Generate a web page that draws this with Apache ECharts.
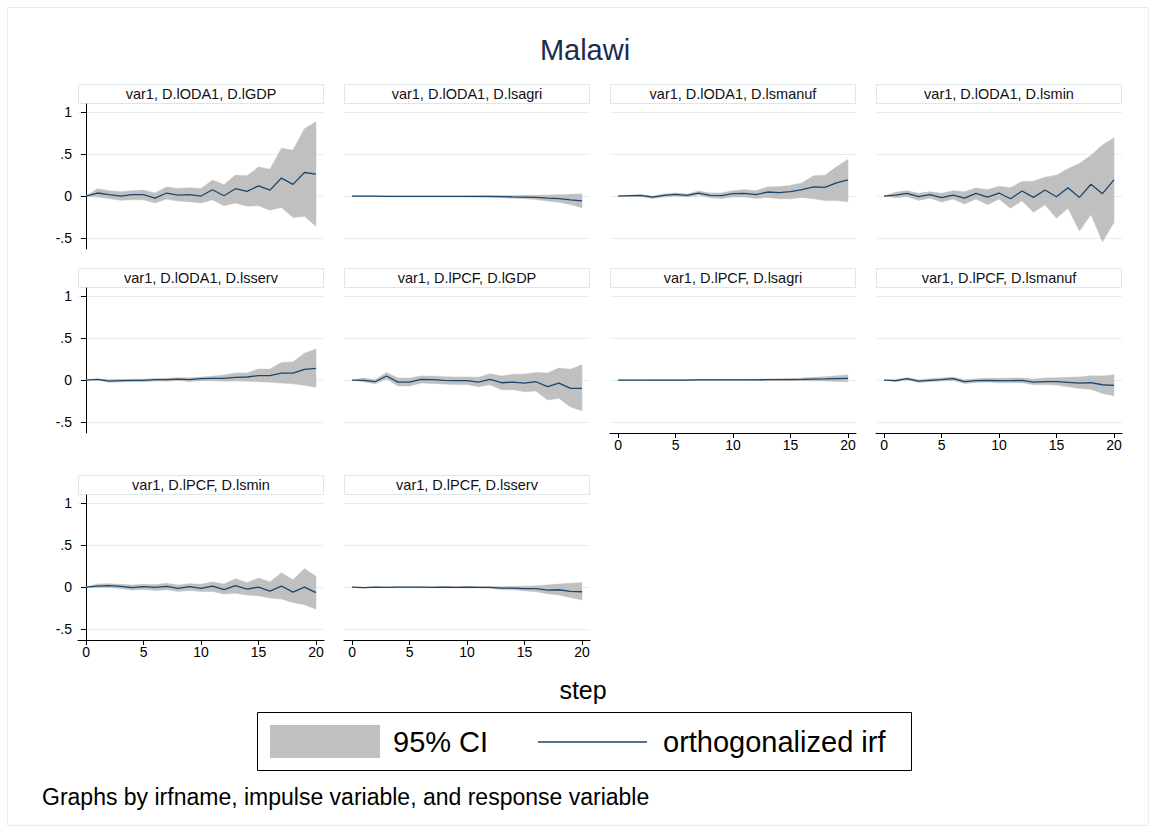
<!DOCTYPE html>
<html>
<head>
<meta charset="utf-8">
<script src="https://cdn.jsdelivr.net/npm/echarts@6/dist/echarts.min.js"></script>
<style>
  html, body { margin: 0; padding: 0; background: #fff; }
  #main { width: 1156px; height: 833px; }
</style>
</head>
<body>
<div id="main"></div>
<script>
// steps of the impulse response
var steps = [0, 1, 2, 3, 4, 5, 6, 7, 8, 9, 10, 11, 12, 13, 14, 15, 16, 17, 18, 19, 20]
var xTicks = [0, 5, 10, 15, 20]
var yTicks = [-0.5, 0, 0.5, 1]
var yTickLabels = ['-.5', '0', '.5', '1']

var panelTitles = [
  'var1, D.lODA1, D.lGDP',
  'var1, D.lODA1, D.lsagri',
  'var1, D.lODA1, D.lsmanuf',
  'var1, D.lODA1, D.lsmin',
  'var1, D.lODA1, D.lsserv',
  'var1, D.lPCF, D.lGDP',
  'var1, D.lPCF, D.lsagri',
  'var1, D.lPCF, D.lsmanuf',
  'var1, D.lPCF, D.lsmin',
  'var1, D.lPCF, D.lsserv',
]

// D.lODA1 -> D.lGDP
var odaGdpIrf = [0, 0.036, 0.016, 0, 0.016, 0.016, -0.024, 0.036, 0.012, 0.016, 0, 0.075, 0.004, 0.087, 0.056, 0.12, 0.071, 0.214, 0.139, 0.28, 0.26]
var odaGdpLo = [0, -0.012, -0.03, -0.05, -0.044, -0.044, -0.083, -0.036, -0.06, -0.067, -0.083, -0.044, -0.115, -0.083, -0.12, -0.115, -0.17, -0.135, -0.254, -0.24, -0.36]
var odaGdpHi = [0, 0.087, 0.063, 0.052, 0.063, 0.071, 0.036, 0.107, 0.09, 0.1, 0.09, 0.19, 0.135, 0.25, 0.24, 0.345, 0.32, 0.57, 0.545, 0.8, 0.885]

// D.lODA1 -> D.lsagri
var odaAgriIrf = [0, -0.002, -0.002, -0.003, -0.003, -0.003, -0.004, -0.004, -0.004, -0.004, -0.004, -0.005, -0.004, -0.007, -0.01, -0.012, -0.016, -0.025, -0.03, -0.045, -0.058]
var odaAgriLo = [0, -0.004, -0.005, -0.006, -0.007, -0.008, -0.008, -0.009, -0.01, -0.011, -0.012, -0.014, -0.016, -0.02, -0.026, -0.032, -0.042, -0.058, -0.075, -0.1, -0.14]
var odaAgriHi = [0, 0.001, 0.001, 0, 0, 0, 0, 0, 0, 0, 0.002, 0.003, 0.004, 0.005, 0.006, 0.008, 0.01, 0.012, 0.015, 0.02, 0.024]

// D.lODA1 -> D.lsmanuf
var odaManufIrf = [0, 0.004, 0.008, -0.012, 0.008, 0.02, 0.008, 0.036, 0.008, 0.004, 0.028, 0.032, 0.016, 0.048, 0.04, 0.052, 0.076, 0.108, 0.104, 0.156, 0.192]
var odaManufLo = [0, -0.008, -0.008, -0.028, -0.012, 0, -0.012, 0.012, -0.02, -0.028, -0.012, -0.012, -0.028, -0.016, -0.032, -0.032, -0.016, -0.032, -0.052, -0.052, -0.068]
var odaManufHi = [0, 0.008, 0.016, 0, 0.024, 0.036, 0.024, 0.06, 0.036, 0.036, 0.064, 0.076, 0.064, 0.108, 0.112, 0.128, 0.156, 0.24, 0.248, 0.348, 0.436]

// D.lODA1 -> D.lsmin
var odaMinIrf = [0, 0.012, 0.032, -0.008, 0.016, -0.02, 0.012, -0.024, 0.032, -0.012, 0.036, -0.032, 0.06, -0.016, 0.072, -0.008, 0.1, -0.016, 0.14, 0.028, 0.192]
var odaMinLo = [0, -0.02, -0.004, -0.052, -0.024, -0.072, -0.036, -0.096, -0.036, -0.104, -0.036, -0.144, -0.056, -0.192, -0.104, -0.264, -0.144, -0.416, -0.22, -0.544, -0.316]
var odaMinHi = [0, 0.044, 0.064, 0.032, 0.052, 0.032, 0.064, 0.052, 0.096, 0.076, 0.116, 0.1, 0.172, 0.176, 0.224, 0.248, 0.324, 0.388, 0.484, 0.608, 0.692]

// D.lODA1 -> D.lsserv
var odaServIrf = [0, 0.008, -0.012, -0.008, -0.004, -0.004, 0.004, 0.004, 0.012, 0.004, 0.016, 0.02, 0.02, 0.032, 0.036, 0.052, 0.052, 0.083, 0.083, 0.127, 0.139]
var odaServLo = [0, 0.002, -0.026, -0.022, -0.02, -0.02, -0.012, -0.014, -0.006, -0.018, -0.008, -0.008, -0.014, -0.012, -0.014, -0.02, -0.026, -0.036, -0.044, -0.063, -0.085]
var odaServHi = [0, 0.012, 0.006, 0.008, 0.01, 0.012, 0.016, 0.022, 0.028, 0.026, 0.036, 0.045, 0.06, 0.083, 0.085, 0.13, 0.13, 0.21, 0.215, 0.32, 0.37]

// D.lPCF -> D.lGDP
var pcfGdpIrf = [0, -0.004, -0.02, 0.048, -0.024, -0.024, 0.008, 0.004, -0.004, -0.008, -0.008, -0.024, 0.008, -0.032, -0.024, -0.036, -0.02, -0.079, -0.036, -0.1, -0.1]
var pcfGdpLo = [0, -0.02, -0.044, 0.012, -0.071, -0.071, -0.036, -0.04, -0.048, -0.052, -0.052, -0.079, -0.056, -0.115, -0.115, -0.139, -0.13, -0.238, -0.218, -0.32, -0.365]
var pcfGdpHi = [0, 0.024, 0.004, 0.09, 0.024, 0.024, 0.048, 0.048, 0.04, 0.036, 0.036, 0.032, 0.075, 0.048, 0.067, 0.071, 0.09, 0.083, 0.143, 0.127, 0.183]

// D.lPCF -> D.lsagri
var pcfAgriIrf = [0, 0, -0.002, -0.001, 0, 0, 0, 0.001, 0.001, 0.002, 0.002, 0.002, 0.003, 0.004, 0.005, 0.006, 0.007, 0.01, 0.013, 0.017, 0.02]
var pcfAgriLo = [0, -0.002, -0.005, -0.005, -0.004, -0.004, -0.004, -0.003, -0.004, -0.004, -0.004, -0.005, -0.005, -0.005, -0.006, -0.007, -0.008, -0.009, -0.012, -0.016, -0.02]
var pcfAgriHi = [0, 0.002, 0.002, 0.003, 0.003, 0.004, 0.004, 0.005, 0.006, 0.007, 0.008, 0.009, 0.011, 0.013, 0.016, 0.02, 0.025, 0.032, 0.04, 0.05, 0.06]

// D.lPCF -> D.lsmanuf
var pcfManufIrf = [0, -0.008, 0.016, -0.012, -0.004, 0.004, 0.016, -0.02, -0.008, -0.004, -0.008, -0.008, -0.004, -0.024, -0.02, -0.02, -0.028, -0.036, -0.032, -0.056, -0.063]
var pcfManufLo = [0, -0.02, 0, -0.028, -0.02, -0.012, -0.004, -0.04, -0.028, -0.024, -0.032, -0.032, -0.032, -0.056, -0.052, -0.06, -0.079, -0.1, -0.11, -0.159, -0.187]
var pcfManufHi = [0, 0.004, 0.028, 0.004, 0.016, 0.024, 0.036, 0.004, 0.016, 0.02, 0.02, 0.024, 0.024, 0.012, 0.024, 0.028, 0.032, 0.036, 0.052, 0.048, 0.063]

// D.lPCF -> D.lsmin
var pcfMinIrf = [0, 0.012, 0.016, 0.008, -0.008, 0.004, -0.004, 0.008, -0.016, 0.004, -0.016, 0.012, -0.032, 0.016, -0.024, 0, -0.048, 0.012, -0.06, 0, -0.067]
var pcfMinLo = [0, -0.008, -0.004, -0.016, -0.036, -0.028, -0.04, -0.032, -0.052, -0.04, -0.052, -0.052, -0.083, -0.075, -0.095, -0.103, -0.131, -0.143, -0.183, -0.21, -0.262]
var pcfMinHi = [0, 0.036, 0.04, 0.032, 0.024, 0.032, 0.028, 0.044, 0.024, 0.04, 0.032, 0.06, 0.036, 0.1, 0.052, 0.107, 0.06, 0.17, 0.087, 0.218, 0.127]

// D.lPCF -> D.lsserv
var pcfServIrf = [0, -0.008, -0.002, -0.004, -0.002, -0.002, -0.002, -0.003, -0.001, -0.003, -0.002, -0.004, -0.004, -0.014, -0.012, -0.02, -0.02, -0.036, -0.032, -0.052, -0.056]
var pcfServLo = [0, -0.012, -0.006, -0.009, -0.008, -0.008, -0.008, -0.009, -0.008, -0.01, -0.01, -0.012, -0.014, -0.03, -0.032, -0.045, -0.055, -0.08, -0.095, -0.125, -0.155]
var pcfServHi = [0, -0.004, 0.002, 0.001, 0.003, 0.003, 0.003, 0.003, 0.005, 0.004, 0.006, 0.005, 0.006, 0.004, 0.008, 0.01, 0.014, 0.025, 0.035, 0.045, 0.052]

var panels = [
  { irf: odaGdpIrf, lo: odaGdpLo, hi: odaGdpHi },
  { irf: odaAgriIrf, lo: odaAgriLo, hi: odaAgriHi },
  { irf: odaManufIrf, lo: odaManufLo, hi: odaManufHi },
  { irf: odaMinIrf, lo: odaMinLo, hi: odaMinHi },
  { irf: odaServIrf, lo: odaServLo, hi: odaServHi },
  { irf: pcfGdpIrf, lo: pcfGdpLo, hi: pcfGdpHi },
  { irf: pcfAgriIrf, lo: pcfAgriLo, hi: pcfAgriHi },
  { irf: pcfManufIrf, lo: pcfManufLo, hi: pcfManufHi },
  { irf: pcfMinIrf, lo: pcfMinLo, hi: pcfMinHi },
  { irf: pcfServIrf, lo: pcfServLo, hi: pcfServHi },
]

var font = '"Liberation Sans", Arial, Helvetica, sans-serif'
var lineColor = '#1a476f'
var ciColor = '#c0c0c0'
var gridColor = '#e6eeee'

// panel layout (pixels)
var colLeft = [78, 344, 610, 876]
var rowTop = [104, 288, 495]
var plotW = 246
var plotH = 145

var myChart = echarts.init(document.getElementById('main'), null, { renderer: 'svg' })

var grids = []
var xAxes = []
var yAxes = []
var series = []
var graphics = []

// outer frame
graphics.push({
  type: 'rect',
  shape: { x: 7.5, y: 7.5, width: 1141, height: 818 },
  style: { fill: 'none', stroke: '#e8eeee', lineWidth: 1 },
  silent: true,
})

panels.forEach(function (p, i) {
  var r = Math.floor(i / 4)
  var c = i % 4
  var left = colLeft[c]
  var top = rowTop[r]
  var showX = i >= 6
  var showY = c === 0

  grids.push({ left: left, top: top, width: plotW, height: plotH })

  xAxes.push({
    gridIndex: i,
    type: 'value',
    min: -0.7,
    max: 20.7,
    axisLine: { show: showX, onZero: false, lineStyle: { color: '#000', width: 1 } },
    axisTick: { show: showX, length: 5, customValues: xTicks, lineStyle: { color: '#000' } },
    axisLabel: { show: showX, customValues: xTicks, color: '#000', fontSize: 14, fontFamily: font, margin: 5 },
    splitLine: { show: false },
  })

  yAxes.push({
    gridIndex: i,
    type: 'value',
    min: -0.63,
    max: 1.095,
    axisLine: { show: showY, lineStyle: { color: '#000', width: 1 } },
    axisTick: { show: showY, length: 5, customValues: yTicks, lineStyle: { color: '#000' } },
    axisLabel: {
      show: showY,
      customValues: yTicks,
      color: '#000',
      fontSize: 14,
      fontFamily: font,
      margin: 6,
      formatter: function (v) {
        var k = yTicks.indexOf(Math.round(v * 100) / 100)
        return k >= 0 ? yTickLabels[k] : ''
      },
    },
    splitLine: { show: true, lineStyle: { color: gridColor, width: 1 } },
  })

  // 95% CI band, drawn as one polygon through the axis scales
  series.push({
    type: 'custom',
    name: '95% CI',
    xAxisIndex: i,
    yAxisIndex: i,
    data: steps.map(function (s, k) { return [s, p.lo[k], p.hi[k]] }),
    encode: { x: 0, y: [1, 2] },
    silent: true,
    z: 2,
    renderItem: function (params, api) {
      if (params.dataIndex !== 0) return null
      var upper = []
      var lower = []
      for (var k = 0; k < steps.length; k++) {
        upper.push(api.coord([steps[k], p.hi[k]]))
        lower.unshift(api.coord([steps[k], p.lo[k]]))
      }
      return {
        type: 'polygon',
        shape: { points: upper.concat(lower) },
        style: { fill: ciColor, stroke: ciColor, lineWidth: 0.5 },
      }
    },
  })
  // orthogonalized irf
  series.push({
    type: 'line',
    name: 'orthogonalized irf',
    xAxisIndex: i,
    yAxisIndex: i,
    data: steps.map(function (s, k) { return [s, p.irf[k]] }),
    symbol: 'none',
    lineStyle: { color: lineColor, width: 1.3 },
    z: 5,
  })

  // subtitle box
  graphics.push({
    type: 'rect',
    shape: { x: left + 0.5, y: top - 19.5, width: plotW - 1, height: 19 },
    style: { fill: '#fff', stroke: '#dde7e7', lineWidth: 1 },
    silent: true,
  })
  graphics.push({
    type: 'text',
    x: left + plotW / 2,
    y: top - 10,
    style: {
      text: panelTitles[i],
      fill: '#111',
      font: '14.5px ' + font,
      textAlign: 'center',
      textVerticalAlign: 'middle',
    },
    silent: true,
  })
})

// main title
graphics.push({
  type: 'text', x: 585, y: 50,
  style: { text: 'Malawi', fill: '#1c2b50', font: '29px ' + font, textAlign: 'center', textVerticalAlign: 'middle' },
})
// x axis title
graphics.push({
  type: 'text', x: 583, y: 690,
  style: { text: 'step', fill: '#000', font: '25px ' + font, textAlign: 'center', textVerticalAlign: 'middle' },
})
// legend
graphics.push({
  type: 'rect',
  shape: { x: 257.5, y: 712.5, width: 654, height: 58 },
  style: { fill: '#fff', stroke: '#000', lineWidth: 1 },
})
graphics.push({
  type: 'rect',
  shape: { x: 270, y: 725, width: 110, height: 33 },
  style: { fill: ciColor },
})
graphics.push({
  type: 'text', x: 393, y: 742,
  style: { text: '95% CI', fill: '#000', font: '29px ' + font, textAlign: 'left', textVerticalAlign: 'middle' },
})
graphics.push({
  type: 'line',
  shape: { x1: 538, y1: 742, x2: 647, y2: 742 },
  style: { stroke: lineColor, lineWidth: 1.5 },
})
graphics.push({
  type: 'text', x: 663, y: 742,
  style: { text: 'orthogonalized irf', fill: '#000', font: '29px ' + font, textAlign: 'left', textVerticalAlign: 'middle' },
})
// note
graphics.push({
  type: 'text', x: 42, y: 797,
  style: { text: 'Graphs by irfname, impulse variable, and response variable', fill: '#000', font: '23px ' + font, textAlign: 'left', textVerticalAlign: 'middle' },
})

var option = {
  animation: false,
  backgroundColor: '#fff',
  grid: grids,
  xAxis: xAxes,
  yAxis: yAxes,
  series: series,
  graphic: graphics,
}

myChart.setOption(option)
</script>
</body>
</html>
